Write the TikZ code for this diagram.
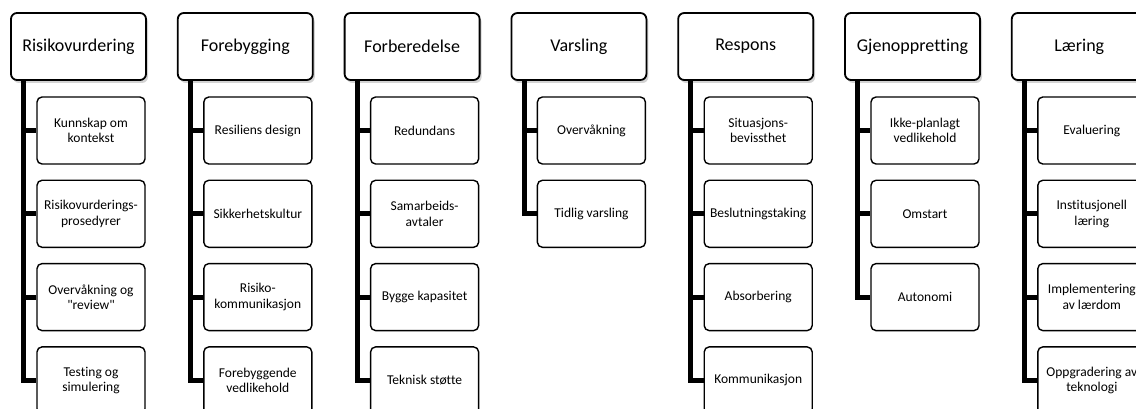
\documentclass[tikz,border=0pt]{standalone}
\usepackage{fontspec}
\setmainfont{Carlito}[Ligatures=NoCommon]
\usetikzlibrary{shadows}

\begin{document}
\begin{tikzpicture}[x=1pt, y=-1pt,
  headbox/.style={draw, line width=1.8pt, rounded corners=6pt, fill=white,
    minimum width=135pt, minimum height=67pt, inner sep=0pt,
    font=\fontsize{18}{21}\selectfont,
    drop shadow={opacity=0.35, shadow xshift=2pt, shadow yshift=-3pt}},
  subbox/.style={draw, line width=1.4pt, rounded corners=5pt, fill=white,
    minimum width=108pt, minimum height=67pt, inner sep=1pt, align=center,
    font=\fontsize{13.5}{15.5}\selectfont},
  trunk/.style={line width=5pt}]

  % Page frame
  \useasboundingbox (0,0) rectangle (1136,409);
  \clip (0,0) rectangle (1136,409);

  % One column per phase: header, then its tasks below
  \foreach \c/\head/\items in {
      0/Risikovurdering/{{Kunnskap om\\kontekst}, {Risikovurderings-\\prosedyrer}, {Overvåkning og\\\textquotedbl review\textquotedbl}, {Testing og\\simulering}},
      1/Forebygging/{{Resiliens design}, {Sikkerhetskultur}, {Risiko-\\kommunikasjon}, {Forebyggende\\vedlikehold}},
      2/Forberedelse/{{Redundans}, {Samarbeids-\\avtaler}, {Bygge kapasitet}, {Teknisk støtte}},
      3/Varsling/{{Overvåkning}, {Tidlig varsling}},
      4/Respons/{{Situasjons-\\bevissthet}, {Beslutningstaking}, {Absorbering}, {Kommunikasjon}},
      5/Gjenoppretting/{{Ikke-planlagt\\vedlikehold}, {Omstart}, {Autonomi}},
      6/Læring/{{Evaluering}, {Institusjonell\\læring}, {Implementering\\av lærdom}, {Oppgradering av\\teknologi}}} {

    \node[headbox] (h\c) at (78.5+166.8*\c, 46.5) {\head};

    \foreach \t [count=\k] in \items {
      \node[subbox] (s\c-\k) at (91+166.8*\c, 47.2+83.3*\k) {\t};
      % trunk line from header down to each task
      \draw[trunk] (h\c.south west) ++(13.5,0) |- (s\c-\k.west);
    }
  }

\end{tikzpicture}
\end{document}
